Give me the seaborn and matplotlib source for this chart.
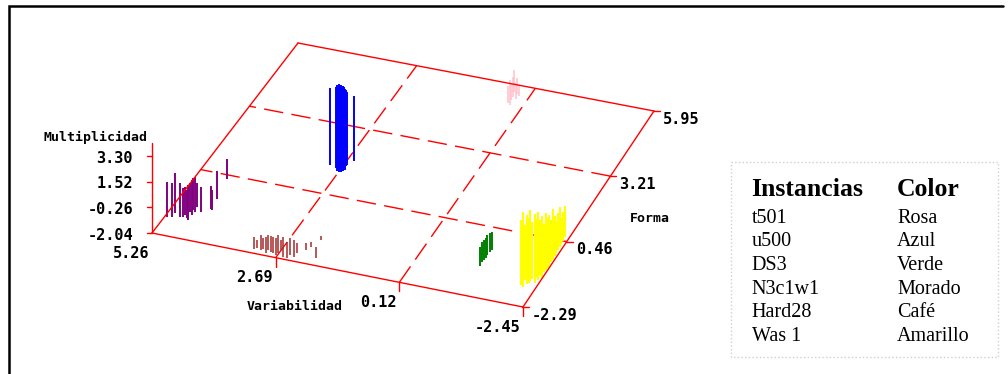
import matplotlib
matplotlib.use("Agg")
import matplotlib.pyplot as plt
import numpy as np
import seaborn as sns
from matplotlib.patches import Rectangle

# --------------------
# data
# --------------------
var_ticks = [5.26, 2.69, 0.12, -2.45]      # Variabilidad (front edge)
forma_ticks = [-2.29, 0.46, 3.21, 5.95]    # Forma (right edge)
mult_ticks = [-2.04, -0.26, 1.52, 3.30]    # Multiplicidad (vertical)

# every instance is a set of vertical strokes: (variabilidad, forma) on the floor, up to multiplicidad
t501_var = [0.44, 0.38, 0.43, 0.43, 0.48, 0.35, 0.40, 0.34]
t501_forma = [5.20, 5.14, 5.34, 5.46, 5.66, 5.41, 5.61, 5.55]
t501_mult = [-0.86, -0.30, -0.93, -0.65, -0.51, -0.86, -0.93, -1.28]

u500_var = [2.94, 2.79, 2.73, 2.73, 2.68, 2.70, 2.64, 2.65, 2.62, 2.65, 2.60, 2.64, 2.63, 2.56]
u500_forma = [1.58, 1.52, 1.41, 1.46, 1.39, 1.51, 1.40, 1.49, 1.45, 1.58, 1.51, 1.67, 1.71, 1.91]
u500_mult = [3.31, 3.58, 3.93, 3.65, 4.07, 3.72, 4.00, 3.65, 3.86, 3.58, 3.58, 3.24, 3.03, 2.47]

ds3_var = [-1.16, -1.14, -1.15, -1.16, -1.14, -1.15, -1.16]
ds3_forma = [-1.09, -0.92, -0.83, -0.74, -0.62, -0.48, -0.39]
ds3_mult = [-0.72, -0.65, -0.65, -0.65, -0.65, -0.72, -0.79]

n3c1w1_var = [5.21, 5.12, 5.12, 4.97, 4.92, 4.91, 4.83, 4.79, 4.86, 4.78, 4.84, 4.77, 4.81, 4.66,
              4.53, 4.49, 4.56, 4.65]
n3c1w1_forma = [-1.58, -1.54, -1.37, -1.48, -1.46, -1.37, -1.47, -1.53, -1.22, -1.31, -1.12, -1.18,
                -0.98, -1.13, -0.95, -0.98, -0.53, 0.30]
n3c1w1_mult = [0.39, 0.32, 0.74, 0.32, -0.03, -0.10, -0.10, 0.39, -0.03, 0.39, 0.18, 0.39, -0.37,
               -0.30, -0.44, -0.65, -0.10, -0.65]

hard28_var = [3.20, 3.16, 3.06, 3.04, 2.93, 2.94, 2.86, 2.81, 2.72, 2.72, 2.70, 2.57, 2.49, 2.47,
              2.37, 2.37, 2.24, 2.19, 1.95, 2.10]
hard28_forma = [-2.12, -2.06, -2.11, -2.06, -2.18, -2.05, -2.11, -2.13, -2.18, -2.09, -1.96, -2.21,
                -2.21, -2.08, -2.12, -1.95, -1.76, -1.61, -1.99, -1.27]
hard28_mult = [-1.21, -1.48, -1.00, -1.28, -0.93, -1.00, -0.93, -0.93, -0.86, -0.79, -1.35, -0.65,
               -0.93, -0.86, -0.86, -1.35, -1.55, -1.69, -1.28, -1.83]

was1_var = [-2.15, -2.21, -2.15, -2.24, -2.26, -2.27, -2.28, -2.37, -2.32, -2.40, -2.38, -2.45, -2.40,
            -2.41, -2.42, -2.41, -2.40, -2.41, -2.41, -2.40, -2.40, -2.39, -2.38, -2.38, -2.36]
was1_forma = [-1.50, -1.56, -1.29, -1.42, -1.37, -1.28, -1.19, -1.32, -1.08, -1.18, -1.02, -1.08, -0.83,
              -0.74, -0.65, -0.53, -0.40, -0.31, -0.18, -0.05, 0.08, 0.20, 0.33, 0.46, 0.62]
was1_mult = [2.47, 3.17, 1.78, 2.75, 2.47, 2.89, 1.92, 2.75, 1.99, 2.68, 1.85, 2.27, 1.29, 1.92, 1.43,
             1.43, 0.81, 1.43, 0.74, 0.18, 0.53, 0.74, -0.23, -0.03, 0.11]

instancias = ["t501", "u500", "DS3", "N3c1w1", "Hard28", "Was 1"]
colores = ["Rosa", "Azul", "Verde", "Morado", "Café", "Amarillo"]

# --------------------
# view: screen position (px) of the floor corners and height of the vertical range
# --------------------
A, B, C, D = (152, 233), (523, 307), (654, 111), (298, 43)
Z_PX = 77


def project(v, f, z):
    v, f, z = (np.asarray(a, dtype=float) for a in (v, f, z))
    s = (v - var_ticks[0]) / (var_ticks[-1] - var_ticks[0])
    t = (f - forma_ticks[0]) / (forma_ticks[-1] - forma_ticks[0])
    u = (z - mult_ticks[0]) / (mult_ticks[-1] - mult_ticks[0])
    x = A[0] + s * (B[0] - A[0]) + t * (D[0] - A[0]) + s * t * (C[0] - B[0] - D[0] + A[0])
    y = A[1] + s * (B[1] - A[1]) + t * (D[1] - A[1]) + s * t * (C[1] - B[1] - D[1] + A[1]) - u * Z_PX
    return x, y


sns.set_style("white")
plt.rcParams['font.family'] = ['DejaVu Sans Mono', 'DejaVu Sans']
plt.rcParams['text.color'] = 'black'
plt.rcParams['lines.scale_dashes'] = False

fig = plt.figure(figsize=(10.08, 3.74), dpi=100)
ax = fig.add_axes([0, 0, 1, 1])
ax.set_xlim(0, 1008)
ax.set_ylim(374, 0)
ax.axis('off')

red = '#ff0000'
vmin, vmax = var_ticks[0], var_ticks[-1]
fmin, fmax = forma_ticks[0], forma_ticks[-1]
zmin = mult_ticks[0]

# floor border
for (v0, f0), (v1, f1) in [((vmin, fmin), (vmax, fmin)), ((vmax, fmin), (vmax, fmax)),
                           ((vmax, fmax), (vmin, fmax)), ((vmin, fmax), (vmin, fmin))]:
    vv = np.linspace(v0, v1, 20)
    ff = np.linspace(f0, f1, 20)
    x, y = project(vv, ff, np.full(20, zmin))
    ax.plot(x, y, color=red, lw=1.0, zorder=3)

# dashed floor grid
for v in var_ticks[1:-1]:
    x, y = project([v, v], [fmin, fmax], [zmin, zmin])
    ax.plot(x, y, color=red, lw=1.0, ls=(0, (14, 6)), zorder=1)
for f in forma_ticks[1:-1]:
    x, y = project([vmax, vmin], [f, f], [zmin, zmin])
    ax.plot(x, y, color=red, lw=1.0, ls=(0, (14, 6)), zorder=1)

# vertical axis
x, y = project([vmin, vmin], [fmin, fmin], [zmin, 4.2])
ax.plot(x, y, color=red, lw=1.0, zorder=3)

num_font = dict(fontsize=11, fontweight='bold', color='black')
lab_font = dict(fontsize=9.5, fontweight='bold', color='black')

for z in mult_ticks:
    x, y = project(vmin, fmin, z)
    ax.plot([x - 5, x], [y, y], color=red, lw=1.0, zorder=3)
    ax.text(x - 19, y + 2, f"{z:.2f}", ha='right', va='center', **num_font)

for v in var_ticks:
    x, y = project(v, fmin, zmin)
    if v != vmin:
        ax.plot([x, x], [y, y + 9], color=red, lw=1.0, zorder=3)
    ax.text(x - 3, y + 20, f"{v:.2f}", ha='right', va='center', **num_font)

for f in forma_ticks:
    x, y = project(vmax, f, zmin)
    ax.plot([x - 1, x + 6], [y, y], color=red, lw=1.0, zorder=3)
    ax.text(x + 9, y + 8, f"{f:.2f}", ha='left', va='center', **num_font)

ax.text(43, 137, "Multiplicidad", ha='left', va='center', **lab_font)
ax.text(295, 306, "Variabilidad", ha='center', va='center', **lab_font)
ax.text(650, 218, "Forma", ha='center', va='center', **lab_font)

# instances
series = [
    (t501_var, t501_forma, t501_mult, '#ffc0cb', 1.1),
    (u500_var, u500_forma, u500_mult, '#0000ff', 1.4),
    (ds3_var, ds3_forma, ds3_mult, '#008000', 1.4),
    (n3c1w1_var, n3c1w1_forma, n3c1w1_mult, '#800080', 1.4),
    (hard28_var, hard28_forma, hard28_mult, '#a52a2a', 1.1),
    (was1_var, was1_forma, was1_mult, '#ffff00', 1.5),
]
for v, f, z, col, lw in series:
    x0, y0 = project(v, f, np.full(len(v), zmin))
    x1, y1 = project(v, f, z)
    ax.vlines(x0, y0, y1, color=col, lw=lw, zorder=2)

# outer frame
ax.plot([9, 9, 1003], [374, 6, 6], color='black', lw=1.8, solid_joinstyle='miter', zorder=4)

# table-like legend
ax.add_patch(Rectangle((731, 162), 267, 195, fill=False, ec='#cfcfcf', ls=':', lw=1.0))
serif = ['Liberation Serif', 'DejaVu Serif']
ax.text(751.5, 196, "Instancias", family=serif, fontsize=18.5, fontweight='bold', va='baseline',
        color='black')
ax.text(897, 196, "Color", family=serif, fontsize=18.5, fontweight='bold', va='baseline', color='black')
for i, (inst, col) in enumerate(zip(instancias, colores)):
    yb = 222.5 + i * 23.7
    ax.text(751.5, yb, inst, family=serif, fontsize=14.5, va='baseline', color='black')
    ax.text(897, yb, col, family=serif, fontsize=14.5, va='baseline', color='black')

fig.savefig("out.png", dpi=100)
